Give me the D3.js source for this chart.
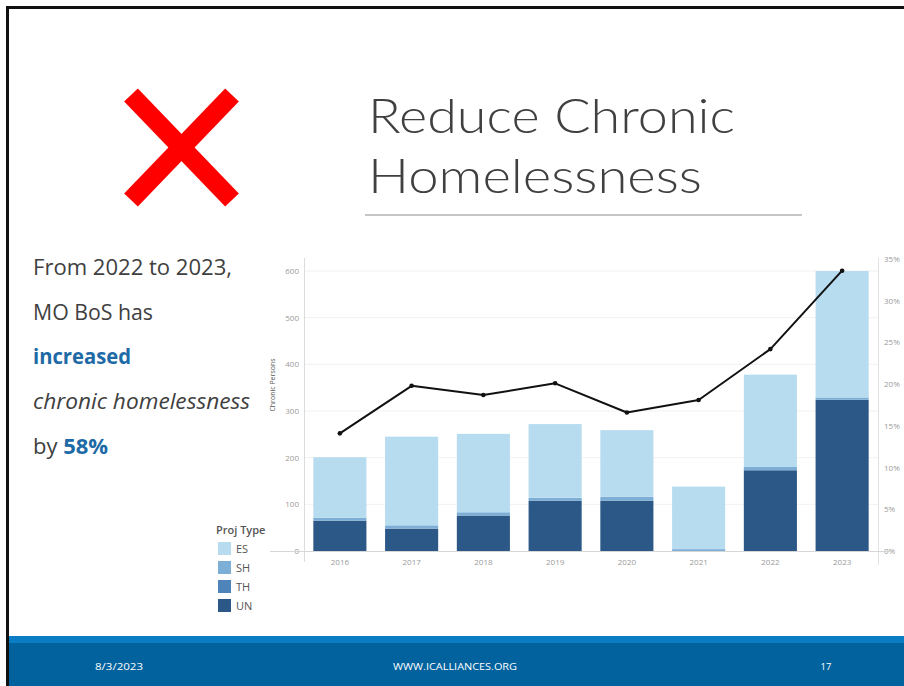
<!DOCTYPE html>
<html>
<head>
<meta charset="utf-8">
<script src="https://cdn.jsdelivr.net/npm/d3@7"></script>
<style>
  html, body { margin: 0; padding: 0; background: #fff; }
  svg { display: block; }
</style>
</head>
<body>
<svg id="slide" width="904" height="686"></svg>
<script>
// Chronic persons by project type, per year
const years = ["2016", "2017", "2018", "2019", "2020", "2021", "2022", "2023"];
const unValues = [65, 48, 76, 108, 108, 0, 173, 324];
const thValues = [0, 0, 0, 0, 0, 0, 0, 0];
const shValues = [6, 7, 7, 6, 8, 4, 7, 5];
const esValues = [130, 190, 168, 158, 143, 134, 198, 271];
// Share of persons who are chronic (right axis)
const chronicShare = [0.141, 0.198, 0.187, 0.201, 0.166, 0.181, 0.242, 0.336];

const projTypes = ["ES", "SH", "TH", "UN"];
const projColors = ["#b8dcef", "#7caed6", "#4f84ba", "#2b5886"];
const countTicks = [0, 100, 200, 300, 400, 500, 600];
const shareTicks = [0, 0.05, 0.10, 0.15, 0.20, 0.25, 0.30, 0.35];

const svg = d3.select("#slide");
const blue = "#1d6aa6";
const sans = "'Open Sans', 'Noto Sans', sans-serif";

// slide frame
svg.append("path")
  .attr("d", "M7.5,686 V7.5 H904")
  .attr("fill", "none").attr("stroke", "#111").attr("stroke-width", 3);

// footer bar
svg.append("rect").attr("x", 9).attr("y", 636).attr("width", 895).attr("height", 7).attr("fill", "#0b7dc4");
svg.append("rect").attr("x", 9).attr("y", 643).attr("width", 895).attr("height", 43).attr("fill", "#01629e");
const footer = svg.append("g").attr("font-family", sans).attr("font-size", 9.5).attr("fill", "#fff");
footer.append("text").attr("x", 119).attr("y", 670).attr("text-anchor", "middle")
  .attr("textLength", 48).attr("lengthAdjust", "spacingAndGlyphs").text("8/3/2023");
footer.append("text").attr("x", 455).attr("y", 670).attr("text-anchor", "middle")
  .attr("textLength", 124).attr("lengthAdjust", "spacingAndGlyphs").text("WWW.ICALLIANCES.ORG");
footer.append("text").attr("x", 826).attr("y", 670).attr("text-anchor", "middle").text("17");

// red cross
const cross = svg.append("g").attr("stroke", "#ff0000").attr("stroke-width", 19);
cross.append("line").attr("x1", 131).attr("y1", 95).attr("x2", 232).attr("y2", 200);
cross.append("line").attr("x1", 232).attr("y1", 95).attr("x2", 131).attr("y2", 200);

// title
const title = svg.append("g").attr("font-family", "Lato, 'Open Sans', sans-serif").attr("font-weight", 300)
  .attr("font-size", 48).attr("fill", "#404040");
title.append("text").attr("x", 368).attr("y", 133)
  .attr("textLength", 367).attr("lengthAdjust", "spacingAndGlyphs").text("Reduce Chronic");
title.append("text").attr("x", 368).attr("y", 193)
  .attr("textLength", 334).attr("lengthAdjust", "spacingAndGlyphs").text("Homelessness");
svg.append("line").attr("x1", 365).attr("x2", 802).attr("y1", 215).attr("y2", 215)
  .attr("stroke", "#c6c6c6").attr("stroke-width", 2);

// side text
const side = svg.append("g").attr("font-family", sans).attr("font-size", 22).attr("fill", "#404040");
side.append("text").attr("x", 33).attr("y", 275)
  .attr("textLength", 199).attr("lengthAdjust", "spacingAndGlyphs").text("From 2022 to 2023,");
side.append("text").attr("x", 33).attr("y", 320)
  .attr("textLength", 120).attr("lengthAdjust", "spacingAndGlyphs").text("MO BoS has");
side.append("text").attr("x", 33).attr("y", 364).attr("font-weight", 700).attr("fill", blue)
  .attr("textLength", 98).attr("lengthAdjust", "spacingAndGlyphs").text("increased");
side.append("text").attr("x", 33).attr("y", 409).attr("font-style", "italic")
  .attr("textLength", 217).attr("lengthAdjust", "spacingAndGlyphs").text("chronic homelessness");
const byLine = side.append("text").attr("x", 33).attr("y", 454);
byLine.append("tspan").text("by ");
byLine.append("tspan").attr("font-weight", 700).attr("fill", blue).text("58%");

// chart scales
const x = d3.scaleBand().domain(years).range([304, 878]).paddingInner(0.26).paddingOuter(0.13);
const y = d3.scaleLinear().domain([0, 600]).range([551, 271]);
const yShare = d3.scaleLinear().domain([0, 0.35]).range([551, 259]);

const chart = svg.append("g").attr("font-family", sans);

// gridlines
chart.append("g").selectAll("line").data(countTicks.slice(1)).join("line")
  .attr("x1", 304).attr("x2", 878)
  .attr("y1", d => y(d)).attr("y2", d => y(d))
  .attr("stroke", "#f1f1f1").attr("stroke-width", 1);

// stacked bars, UN at the bottom
const rows = years.map((yr, i) => ({ year: yr, UN: unValues[i], TH: thValues[i], SH: shValues[i], ES: esValues[i] }));
const stack = d3.stack().keys(["UN", "TH", "SH", "ES"])(rows);
const colorOf = d3.scaleOrdinal().domain(projTypes).range(projColors);
chart.append("g").selectAll("g").data(stack).join("g")
  .attr("fill", s => colorOf(s.key))
  .selectAll("rect").data(s => s).join("rect")
  .attr("x", d => x(d.data.year))
  .attr("width", x.bandwidth())
  .attr("y", d => y(d[1]))
  .attr("height", d => y(d[0]) - y(d[1]));

// axes
const leftAxis = chart.append("g").attr("transform", "translate(304,0)")
  .call(d3.axisLeft(y).tickValues(countTicks).tickSize(0).tickPadding(5).tickFormat(d3.format("d")));
const rightAxis = chart.append("g").attr("transform", "translate(878,0)")
  .call(d3.axisRight(yShare).tickValues(shareTicks).tickSize(0).tickPadding(6).tickFormat(d3.format(".0%")));
const bottomAxis = chart.append("g").attr("transform", "translate(0,551)")
  .call(d3.axisBottom(x).tickSize(0).tickPadding(8));
[leftAxis, rightAxis, bottomAxis].forEach(a => {
  a.select(".domain").remove();
  a.selectAll("text").attr("fill", "#9a9a9a").attr("font-size", 8).attr("font-family", sans);
});

// axis rules
chart.append("line").attr("x1", 304.5).attr("x2", 304.5).attr("y1", 258).attr("y2", 562).attr("stroke", "#dcdcdc");
chart.append("line").attr("x1", 878.5).attr("x2", 878.5).attr("y1", 258).attr("y2", 565).attr("stroke", "#e2e2e2");
chart.append("line").attr("x1", 270).attr("x2", 890).attr("y1", 551.5).attr("y2", 551.5).attr("stroke", "#d6d6d6");

chart.append("text")
  .attr("transform", "translate(275,385) rotate(-90)")
  .attr("text-anchor", "middle").attr("font-size", 7).attr("fill", "#555")
  .text("Chronic Persons");

// chronic share line
const shareLine = d3.line()
  .x((d, i) => x(years[i]) + x.bandwidth() / 2)
  .y(d => yShare(d));
chart.append("path").datum(chronicShare)
  .attr("d", shareLine).attr("fill", "none")
  .attr("stroke", "#111").attr("stroke-width", 2).attr("stroke-linejoin", "round");
chart.append("g").selectAll("circle").data(chronicShare).join("circle")
  .attr("cx", (d, i) => x(years[i]) + x.bandwidth() / 2)
  .attr("cy", d => yShare(d))
  .attr("r", 2.3).attr("fill", "#111");

// legend
const legend = svg.append("g").attr("font-family", sans);
legend.append("text").attr("x", 216).attr("y", 534)
  .attr("font-size", 11).attr("font-weight", 600).attr("fill", "#555").text("Proj Type");
const items = legend.selectAll("g.item").data(projTypes).join("g").attr("class", "item")
  .attr("transform", (d, i) => `translate(218,${542 + i * 19})`);
items.append("rect").attr("width", 13).attr("height", 13).attr("fill", d => colorOf(d));
items.append("text").attr("x", 18).attr("y", 11).attr("font-size", 11).attr("fill", "#555").text(d => d);
</script>
</body>
</html>
